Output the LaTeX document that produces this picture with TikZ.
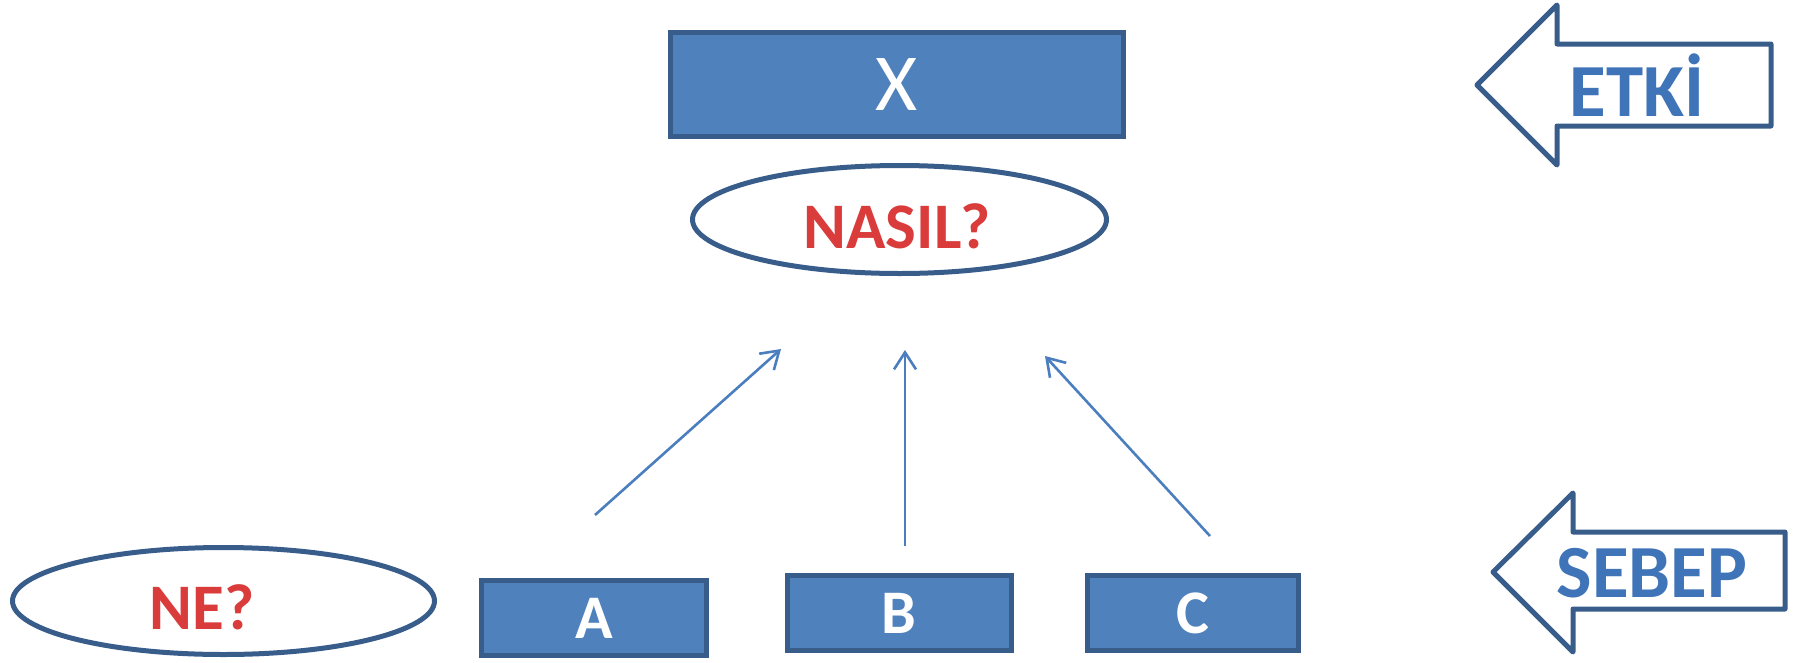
\documentclass[tikz,border=0pt]{standalone}
\usepackage{fontspec}
\setmainfont{Carlito}
\usetikzlibrary{arrows.meta,shapes.geometric}
\definecolor{boxfill}{HTML}{4F81BD}
\definecolor{boxline}{HTML}{385D8A}
\definecolor{qred}{HTML}{DA3B3B}
\definecolor{tblue}{HTML}{3F74B8}
\definecolor{linkblue}{HTML}{4A7EBF}
\begin{document}
\begin{tikzpicture}[x=1pt,y=-1pt,
  bluebox/.style={rectangle,draw=boxline,line width=5pt,fill=boxfill,text=white,inner sep=0pt},
  qoval/.style={ellipse,draw=boxline,line width=5pt,fill=white,inner sep=0pt},
  qtext/.style={text=qred,font=\fontsize{65}{65}\selectfont\bfseries},
  bigarrow/.style={draw=boxline,line width=5pt,line join=round,fill=white},
  arrowtext/.style={text=tblue,font=\fontsize{75}{75}\selectfont\bfseries},
  link/.style={draw=linkblue,line width=2.6pt,-{Straight Barb[length=17pt,width=22pt]}}]
\useasboundingbox (0,0) rectangle (1800,662);

% top box and question oval
\node[bluebox,minimum width=453pt,minimum height=104pt,font=\fontsize{81}{81}\selectfont] (X) at (897,84.5) {X};
\node[qoval,minimum width=414pt,minimum height=108pt] (nasil) at (899.5,219.5) {};
\node[qtext] (nasiltext) at (897,226) {NASIL?};

% bottom boxes
\node[qoval,minimum width=422pt,minimum height=107pt] (ne) at (223.5,601) {};
\node[qtext] (netext) at (202,607) {NE?};
\node[bluebox,minimum width=225pt,minimum height=75pt,font=\fontsize{62}{62}\selectfont\bfseries] (A) at (594,618) {A};
\node[bluebox,minimum width=224pt,minimum height=75pt,font=\fontsize{62}{62}\selectfont\bfseries] (B) at (899,613) {B};
\node[bluebox,minimum width=211pt,minimum height=75pt,font=\fontsize{62}{62}\selectfont\bfseries] (C) at (1193,613) {C};

% connectors
\coordinate (a1s) at (595,515);
\coordinate (a1e) at (781,349);
\coordinate (a2s) at (905,546);
\coordinate (a2e) at (905,350);
\coordinate (a3s) at (1210,536);
\coordinate (a3e) at (1045,356);
\draw[link] (a1s) -- (a1e);
\draw[link] (a2s) -- (a2e);
\draw[link] (a3s) -- (a3e);

% ETKI arrow
\draw[bigarrow] (1477,85) -- (1557,5) -- (1557,44) -- (1771,44) -- (1771,126) -- (1557,126) -- (1557,165) -- cycle;
\node[arrowtext] (etki) at (1637,85) {ETKİ};

% SEBEP arrow
\draw[bigarrow] (1493,572) -- (1573,493) -- (1573,532) -- (1785,532) -- (1785,609) -- (1573,609) -- (1573,652) -- cycle;
\node[arrowtext] (sebep) at (1652,573) {SEBEP};
\end{tikzpicture}
\end{document}
